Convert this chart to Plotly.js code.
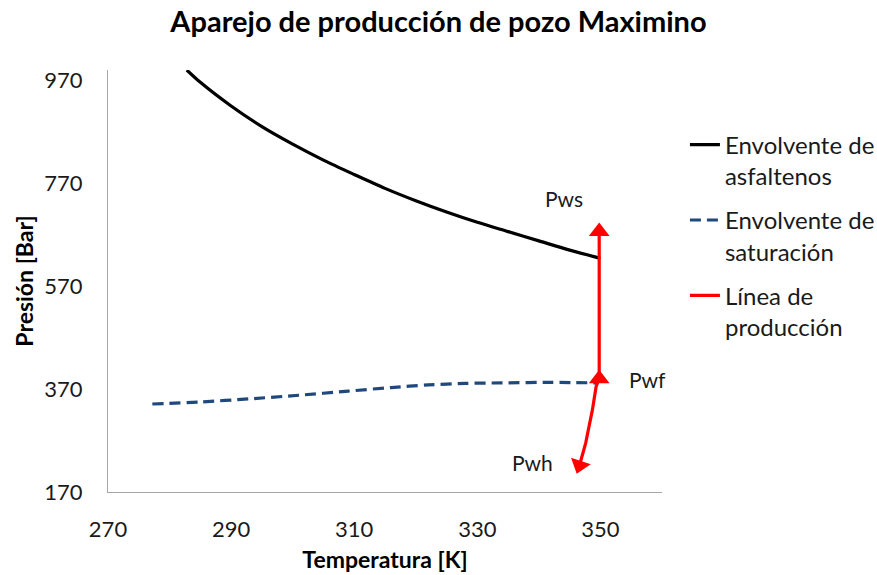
<!DOCTYPE html>
<html>
<head>
<meta charset="utf-8">
<script src="https://cdn.plot.ly/plotly-3.0.1.min.js"></script>
<style>html,body{margin:0;padding:0;background:#fff;}#chart{width:877px;height:575px;}</style>
</head>
<body>
<div id="chart"></div>
<script>
// Envolvente de asfaltenos
const asfT = [282.8, 285, 290, 295, 300, 305, 310, 315, 320, 325, 330, 335, 340, 345, 350];
const asfP = [990, 966, 920, 880, 846, 815, 787, 760, 736, 714, 694, 676, 658, 640, 624];
// Envolvente de saturación
const satT = [277.2, 285, 293, 301, 309, 316, 322, 328, 334, 342, 349.5];
const satP = [341, 345, 351, 358, 366, 373, 378, 381, 382, 383, 382];
// Línea de producción (Pwh -> Pwf -> Pws)
const prodT = [346.6, 347.6, 348.7, 349.3, 349.8, 349.8];
const prodP = [222, 265, 330, 375, 390, 676];
// Arrow heads at Pwh, Pwf, Pws (indices into the production line)
const arrowIdx = [0, 4, 5];
const arrowSymbol = ['triangle-down', 'triangle-up', 'triangle-up'];
const arrowAngle = [18, 0, 0];
// Point labels
const lblText = ["Pws", "Pwf", "Pwh"];
const lblT = [344.0, 357.6, 338.9];
const lblP = [740, 388, 228];
const xTicks = [270, 290, 310, 330, 350];
const yTicks = [170, 370, 570, 770, 970];

const FONT = "Lato, 'Open Sans', sans-serif";

const traces = [
  {x: asfT, y: asfP, mode: 'lines', name: 'Envolvente de<br>asfaltenos',
   line: {color: '#000000', width: 3.2, shape: 'spline', smoothing: 0.8}, legendgroup: 'a'},
  {x: satT, y: satP, mode: 'lines', name: 'Envolvente de<br>saturación',
   line: {color: '#1F497D', width: 3.2, dash: '11px,6px', shape: 'spline', smoothing: 0.8}, legendgroup: 'b'},
  {x: prodT, y: prodP, mode: 'lines', name: 'Línea de<br>producción',
   line: {color: '#FF0000', width: 3.2}, legendgroup: 'c'},
  {x: arrowIdx.map(i => prodT[i]), y: arrowIdx.map(i => prodP[i]), mode: 'markers',
   showlegend: false, legendgroup: 'c', hoverinfo: 'skip',
   marker: {color: '#FF0000', size: 18, symbol: arrowSymbol, angle: arrowAngle,
            line: {width: 0}}}
];

const annotations = lblText.map((t, i) => ({
  x: lblT[i], y: lblP[i], xref: 'x', yref: 'y', text: t, showarrow: false,
  font: {family: FONT, size: 21, color: '#1a1a1a'}
}));

const layout = {
  width: 877, height: 575,
  paper_bgcolor: '#ffffff', plot_bgcolor: '#ffffff',
  margin: {l: 108, r: 215, t: 70, b: 83},
  font: {family: FONT, color: '#1a1a1a', size: 22},
  title: {text: '<b>Aparejo de producción de pozo Maximino</b>', x: 0.5, xref: 'container',
          xanchor: 'center', y: 0.962, yanchor: 'middle',
          font: {family: FONT, size: 29, color: '#000000'}},
  xaxis: {range: [270, 360], tickvals: xTicks, ticktext: xTicks.map(String),
          showgrid: false, zeroline: false, showline: true, linecolor: '#a6a6a6', linewidth: 1,
          ticks: 'outside', ticklen: 18, tickcolor: 'rgba(0,0,0,0)',
          tickfont: {family: FONT, size: 22, color: '#1a1a1a'},
          title: {text: '<b>Temperatura [K]</b>', font: {family: FONT, size: 23, color: '#000'}, standoff: 10}},
  yaxis: {range: [170, 990], tickvals: yTicks, ticktext: yTicks.map(String),
          showgrid: false, zeroline: false, showline: true, linecolor: '#a6a6a6', linewidth: 1,
          ticks: 'outside', ticklen: 20, tickcolor: 'rgba(0,0,0,0)',
          tickfont: {family: FONT, size: 22, color: '#1a1a1a'},
          title: {text: '<b>Presión [Bar]</b>', font: {family: FONT, size: 23, color: '#000'}, standoff: 4}},
  showlegend: true,
  legend: {xref: 'container', x: 0.781, xanchor: 'left', yref: 'container', y: 0.787, yanchor: 'top', valign: 'top',
           font: {family: FONT, size: 24, color: '#1a1a1a'}, tracegroupgap: 10,
           bgcolor: 'rgba(0,0,0,0)'},
  annotations: annotations
};

Plotly.newPlot('chart', traces, layout, {displayModeBar: false, staticPlot: true});
</script>
</body>
</html>
